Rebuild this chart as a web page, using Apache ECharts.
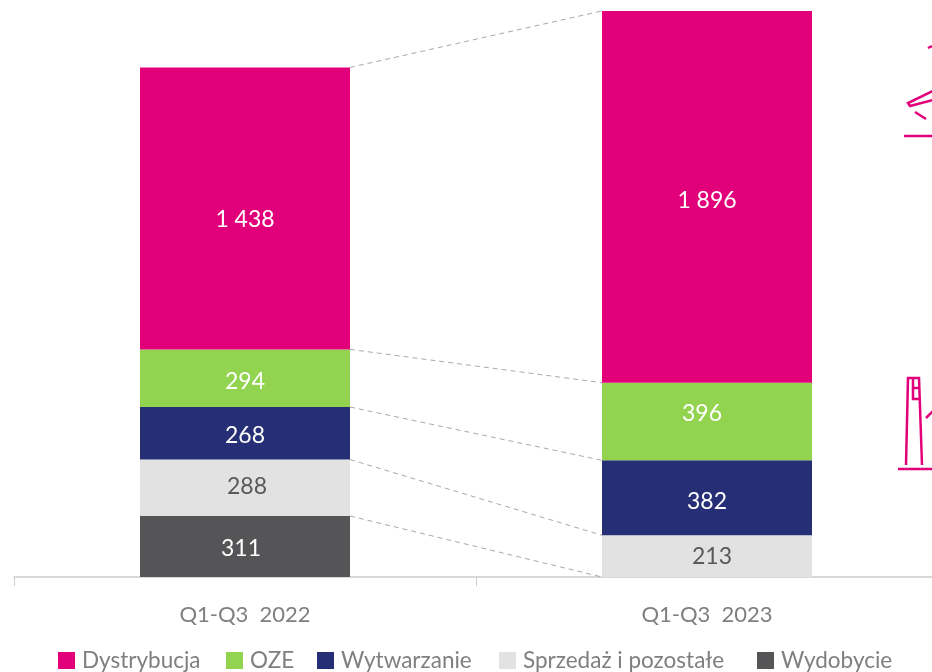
<!DOCTYPE html>
<html><head><meta charset="utf-8">
<style>html,body{margin:0;padding:0;background:#fff}#c{width:932px;height:672px}</style>
<script src="https://cdn.jsdelivr.net/npm/echarts@6/dist/echarts.min.js"></script>
</head><body><div id="c"></div>
<script>
const categories = ['Q1-Q3  2022', 'Q1-Q3  2023'];
const dystrybucja = [1438, 1896];
const oze = [294, 396];
const wytwarzanie = [268, 382];
const sprzedaz = [288, 213];
const wydobycie = [311, null];
const labelTexts = {
  'Dystrybucja': ['1 438', '1 896'], 'OZE': ['294', '396'], 'Wytwarzanie': ['268', '382'],
  'Sprzedaż i pozostałe': ['288', '213'], 'Wydobycie': ['311', '']
};

const FONT = 'Lato';
const GREY = '#7f7f7f';
const BAR = 210;
const defs = [
  {name: 'Wydobycie', data: wydobycie, color: '#555557', text: '#fff', off: [[-4, 2.5], [0, 0]], legend: 757},
  {name: 'Sprzedaż i pozostałe', data: sprzedaz, color: '#e2e2e2', text: '#595959', off: [[2, -1.5], [5, 0]], legend: 499},
  {name: 'Wytwarzanie', data: wytwarzanie, color: '#262f75', text: '#fff', off: [[0, 2.5], [0, 3.5]], legend: 317},
  {name: 'OZE', data: oze, color: '#92d350', text: '#fff', off: [[0, 3], [-5, -7.5]], legend: 226},
  {name: 'Dystrybucja', data: dystrybucja, color: '#e2007a', text: '#fff', off: [[0, 11], [0, 3.5]], legend: 58}
];

// Connector levels: cumulative tops of each stack
const connectors = [];
let c0 = 0, c1 = 0;
defs.forEach((d, i) => {
  const prev1 = c1;
  c0 += d.data[0] || 0;
  c1 += d.data[1] || 0;
  connectors.push([c0, d.data[1] == null ? prev1 : c1]);
});

const series = defs.map(d => ({
  name: d.name, type: 'bar', stack: 'total', barWidth: BAR,
  itemStyle: {color: d.color},
  data: d.data.map((v, i) => ({
    value: v,
    label: {show: v != null, position: 'inside', offset: d.off[i], formatter: labelTexts[d.name][i],
      color: d.text, fontFamily: FONT, fontSize: 23, fontWeight: 400}
  }))
}));

series.push({
  type: 'custom', silent: true, z: 1, legendHoverLink: false, clip: false,
  data: connectors,
  encode: {x: [], y: [0, 1]},
  renderItem(params, api) {
    const a = api.coord([0, api.value(0)]);
    const b = api.coord([1, api.value(1)]);
    return {type: 'line', shape: {x1: a[0] + BAR / 2, y1: a[1], x2: b[0] - BAR / 2, y2: b[1]},
      style: {stroke: '#a9a9a9', lineWidth: 1, lineDash: [5, 4]}};
  }
});

const legends = defs.map(d => ({
  data: [d.name], left: d.legend, top: 649, padding: 0, itemWidth: 17, itemHeight: 17, itemGap: 0,
  icon: 'rect', selectedMode: false,
  textStyle: {color: GREY, fontFamily: FONT, fontSize: 22.5, fontWeight: 400, padding: [0, 0, 0, 2]}
}));

const pink = {stroke: '#e2007a', lineWidth: 2.5, fill: null};
const poly = pts => ({type: 'polyline', silent: true, shape: {points: pts}, style: pink});
const icons = [
  poly([[928, 48], [932, 46]]),
  poly([[933, 91], [908, 103], [910, 106], [933, 100]]),
  poly([[915, 112], [926, 119]]),
  poly([[904, 136], [933, 136]]),
  poly([[906, 465], [908, 378], [919, 378], [922, 465]]),
  poly([[919, 388], [913, 388], [913, 378]]),
  poly([[913, 388], [913, 399], [919, 399]]),
  poly([[926, 418], [933, 411]]),
  poly([[898, 469], [933, 469]])
];

const chart = echarts.init(document.getElementById('c'), null, {renderer: 'canvas'});
chart.setOption({
  animation: false,
  backgroundColor: '#fff',
  legend: legends,
  grid: {left: 14, width: 924, top: 0, height: 577, containLabel: false, outerBoundsMode: 'none'},
  xAxis: {
    type: 'category', data: categories, boundaryGap: true,
    axisLine: {lineStyle: {color: '#cccccc', width: 1.5}},
    axisTick: {show: true, length: 9, alignWithLabel: false, lineStyle: {color: '#cccccc', width: 1}},
    axisLabel: {color: GREY, fontFamily: FONT, fontSize: 22, fontWeight: 400, margin: 27}
  },
  yAxis: {type: 'value', min: 0, max: 2943, show: false, splitLine: {show: false}},
  series,
  graphic: icons
});
</script></body></html>
